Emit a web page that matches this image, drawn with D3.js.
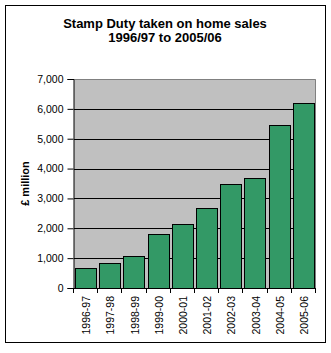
<!DOCTYPE html>
<html>
<head>
<meta charset="utf-8">
<script src="https://cdn.jsdelivr.net/npm/d3@7/dist/d3.min.js"></script>
<style>
  html, body { margin: 0; padding: 0; background: #fff; }
  svg { display: block; font-family: Arial, "Liberation Sans", sans-serif; }
</style>
</head>
<body>
<svg id="chart" width="331" height="353"></svg>
<script>
// Stamp Duty receipts on residential sales, £ million
const years = ["1996-97", "1997-98", "1998-99", "1999-00", "2000-01",
               "2001-02", "2002-03", "2003-04", "2004-05", "2005-06"];
const receipts = [670, 830, 1070, 1800, 2130, 2670, 3500, 3700, 5470, 6200];
const yTicks = [0, 1000, 2000, 3000, 4000, 5000, 6000, 7000];
const titleLines = ["Stamp Duty taken on home sales", "1996/97 to 2005/06"];
const yLabel = "£ million";

const svg = d3.select("#chart");
const plot = { left: 74, right: 316, top: 79, bottom: 288 };

// Outer frame
svg.append("rect")
  .attr("x", 5.5).attr("y", 5.5)
  .attr("width", 320).attr("height", 337)
  .attr("fill", "#fff").attr("stroke", "#000").attr("stroke-width", 1);

// Title
svg.append("g").selectAll("text")
  .data(titleLines)
  .join("text")
  .attr("x", 165)
  .attr("y", (d, i) => 28 + i * 14)
  .attr("text-anchor", "middle")
  .attr("font-size", 13)
  .attr("font-weight", "bold")
  .text(d => d);

const x = d3.scaleBand()
  .domain(years)
  .range([plot.left, plot.right])
  .paddingInner(0.08)
  .paddingOuter(0.04);

const y = d3.scaleLinear()
  .domain([0, 7000])
  .range([plot.bottom, plot.top]);

// Plot background
svg.append("rect")
  .attr("x", plot.left).attr("y", plot.top)
  .attr("width", plot.right - plot.left)
  .attr("height", plot.bottom - plot.top)
  .attr("fill", "#c0c0c0");

// Horizontal gridlines
svg.append("g").selectAll("line")
  .data(yTicks.filter(t => t > 0 && t < 7000))
  .join("line")
  .attr("x1", plot.left).attr("x2", plot.right)
  .attr("y1", d => Math.round(y(d)) + 0.5)
  .attr("y2", d => Math.round(y(d)) + 0.5)
  .attr("stroke", "#000").attr("stroke-width", 1);

// Plot border (top and right in grey)
svg.append("path")
  .attr("d", `M${plot.left},${plot.top + 0.5}H${plot.right - 0.5}V${plot.bottom}`)
  .attr("fill", "none").attr("stroke", "#808080").attr("stroke-width", 1);

// Bars
svg.append("g").selectAll("rect")
  .data(years.map((yr, i) => ({ yr, v: receipts[i] })))
  .join("rect")
  .attr("x", d => Math.round(x(d.yr)) + 0.5)
  .attr("y", d => Math.round(y(d.v)) + 0.5)
  .attr("width", Math.round(x.bandwidth()) - 1)
  .attr("height", d => Math.round(y(0)) - Math.round(y(d.v)))
  .attr("fill", "#339966")
  .attr("stroke", "#000").attr("stroke-width", 1);

// Y axis
const yAxis = svg.append("g")
  .attr("transform", `translate(${plot.left - 0.5},0)`)
  .call(d3.axisLeft(y).tickValues(yTicks).tickFormat(d3.format(",")).tickSize(6).tickPadding(4));
yAxis.select(".domain").attr("stroke", "#000");
yAxis.selectAll(".tick line").attr("stroke", "#000");
yAxis.selectAll("text").attr("font-size", 10.5).attr("fill", "#000")
  .attr("font-family", "Arial, 'Liberation Sans', sans-serif");

// X axis baseline and category boundary ticks
const step = x.step();
const bounds = years.map(c => x(c) - step * x.paddingInner() / 2);
bounds.push(plot.right);
svg.append("line")
  .attr("x1", plot.left - 6).attr("x2", plot.right)
  .attr("y1", Math.round(y(0)) + 0.5).attr("y2", Math.round(y(0)) + 0.5)
  .attr("stroke", "#000");
svg.append("g").selectAll("line")
  .data(bounds)
  .join("line")
  .attr("x1", d => Math.round(d) - 0.5).attr("x2", d => Math.round(d) - 0.5)
  .attr("y1", Math.round(y(0))).attr("y2", Math.round(y(0)) + 5)
  .attr("stroke", "#000");

// Category labels, rotated
svg.append("g").selectAll("text")
  .data(years)
  .join("text")
  .attr("transform", d => `translate(${x(d) + x.bandwidth() / 2 + 0.5},296) rotate(-90)`)
  .attr("text-anchor", "end")
  .attr("dy", "0.35em")
  .attr("font-size", 10.5)
  .text(d => d);

// Y axis title
svg.append("text")
  .attr("transform", `translate(29,${(plot.top + plot.bottom) / 2}) rotate(-90)`)
  .attr("text-anchor", "middle")
  .attr("font-size", 11)
  .attr("font-weight", "bold")
  .text(yLabel);
</script>
</body>
</html>
